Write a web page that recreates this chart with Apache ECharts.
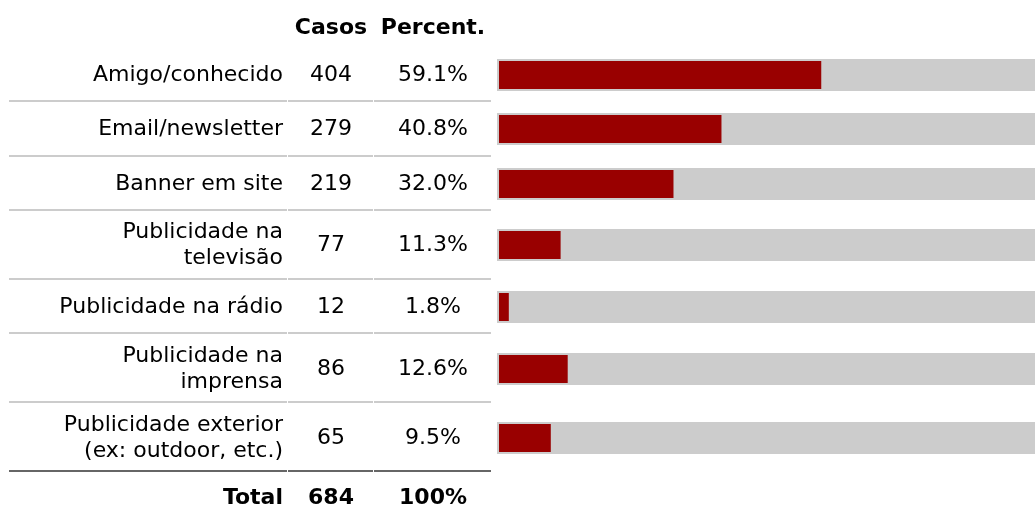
<!DOCTYPE html>
<html>
<head>
<meta charset="utf-8">
<script src="https://cdn.jsdelivr.net/npm/echarts@6/dist/echarts.min.js"></script>
<style>
  html, body { margin: 0; background: #fff; }
  #main { width: 1035px; height: 511px; }
</style>
</head>
<body>
<div id="main"></div>
<script>
// 数据
const categories = [
  'Amigo/conhecido',
  'Email/newsletter',
  'Banner em site',
  'Publicidade na\ntelevisão',
  'Publicidade na rádio',
  'Publicidade na\nimprensa',
  'Publicidade exterior\n(ex: outdoor, etc.)'
];
const casos = [404, 279, 219, 77, 12, 86, 65];
const percent = [59.1, 40.8, 32.0, 11.3, 1.8, 12.6, 9.5];
const headers = ['Casos', 'Percent.'];
const totalRow = ['Total', '684', '100%'];

// 布局
const FONT = 'DejaVu Sans';
const FONT_SIZE = 22;
const colLabel = 283, colCasos = 331, colPct = 433;
const rowHeight = name => (name.includes('\n') ? 69 : 54.3);
// 100% 落在画布右侧之外，可见部分只到 ~98.3%
const X_MAX = 98.3;

let acc = 0;
const rows = categories.map((name, i) => {
  const h = rowHeight(name);
  const top = acc;
  acc += h;
  return [percent[i], top + h / 2, acc];
});
const totalH = acc;

const txt = (x, y, text, align, bold) => ({
  type: 'text',
  x: x, y: y,
  style: {
    text: text,
    align: align,
    verticalAlign: 'middle',
    fill: '#000',
    font: (bold ? 'bold ' : '') + FONT_SIZE + 'px "' + FONT + '"',
    lineHeight: 26
  }
});

const myChart = echarts.init(document.getElementById('main'));
const options = {
  animation: false,
  grid: { left: 499, top: 48, right: 0, height: 424 },
  xAxis: { type: 'value', min: 0, max: X_MAX, show: false },
  yAxis: { type: 'value', min: 0, max: totalH, inverse: true, show: false },
  graphic: [
    txt(colCasos, 28, headers[0], 'center', true),
    txt(colPct, 28, headers[1], 'center', true),
    txt(colLabel, 498, totalRow[0], 'right', true),
    txt(colCasos, 498, totalRow[1], 'center', true),
    txt(colPct, 498, totalRow[2], 'center', true)
  ],
  series: [{
    type: 'custom',
    clip: false,
    data: rows,
    encode: { x: 0, y: 1 },
    renderItem: (params, api) => {
      const i = params.dataIndex;
      const yc = api.value(1);
      const p0 = api.coord([0, yc]);
      const p1 = api.coord([api.value(0), yc]);
      const p100 = api.coord([100, yc]);
      const yb = Math.round(api.coord([0, api.value(2)])[1]) - 1;
      const last = i === categories.length - 1;
      const sep = { stroke: last ? '#666' : '#ccc', lineWidth: 2 };
      const seg = (a, b) => ({ type: 'line', shape: { x1: a, y1: yb, x2: b, y2: yb }, style: sep });
      const cy = Math.round(p0[1]);
      return {
        type: 'group',
        children: [
          { type: 'rect', shape: { x: p0[0] - 2, y: cy - 16, width: p100[0] - p0[0] + 2, height: 32 }, style: { fill: '#cccccc' } },
          { type: 'rect', shape: { x: p0[0], y: cy - 14, width: p1[0] - p0[0], height: 28 }, style: { fill: '#990000' } },
          txt(colLabel, cy, categories[i], 'right', false),
          txt(colCasos, cy, String(casos[i]), 'center', false),
          txt(colPct, cy, percent[i].toFixed(1) + '%', 'center', false),
          seg(9, 287), seg(288, 373), seg(374, 491)
        ]
      };
    }
  }]
};
myChart.setOption(options);
</script>
</body>
</html>
